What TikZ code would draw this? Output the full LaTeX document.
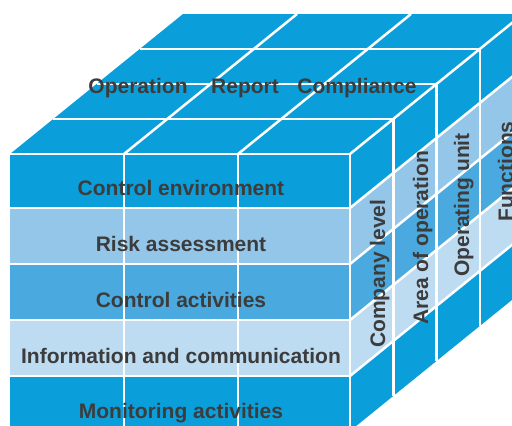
\documentclass[tikz,border=0pt]{standalone}
\usepackage{fontspec}
\setmainfont{Liberation Sans}
\definecolor{cdark}{HTML}{0A9FDB}
\definecolor{clight}{HTML}{94C6EA}
\definecolor{cmid}{HTML}{4AAADF}
\definecolor{cpale}{HTML}{BDDBF1}
\definecolor{ctext}{HTML}{3C3C3C}
\tikzset{
  lbl/.style={text=ctext, font=\fontsize{21}{25}\selectfont\bfseries, inner sep=0pt},
  gridline/.style={draw=white, line width=2.5pt, line cap=butt}
}
\begin{document}
\begin{tikzpicture}[x=1pt,y=-1pt]
\useasboundingbox (0,0) rectangle (512,426);
\clip (0,0) rectangle (512,426);
% rows of front and right faces
\foreach \a/\b/\c in {154/208/cdark, 208/264/clight, 264/320/cmid, 320/376/cpale, 376/431/cdark} {
  \fill[\c] (10,\a) rectangle (350,\b);
  \fill[\c] (350,\a) -- (523,{\a-140}) -- (523,{\b-140}) -- (350,\b) -- cycle;
}
% top face
\fill[cdark] (10,154) -- (350,154) -- (523,14) -- (183,14) -- cycle;
% front grid
\foreach \y in {208,264,320,376} \draw[gridline] (10,\y) -- (350,\y);
\foreach \x in {124,238,350} \draw[gridline] (\x,154) -- (\x,431);
% top grid
\draw[gridline] (10,154) -- (350,154);
\foreach \k in {1,2,3} \draw[gridline] ({10+43.25*\k},{154-35*\k}) -- ({350+43.25*\k},{154-35*\k});
\draw[gridline] (124,154) -- (297,14);
\draw[gridline] (238,154) -- (411,14);
\draw[gridline] (350,154) -- (523,14);
% right grid
\foreach \y in {208,264,320,376} \draw[gridline] (350,\y) -- (523,{\y-140});
\foreach \k in {1,2,3} \draw[gridline] ({350+43.25*\k},{154-35*\k}) -- ({350+43.25*\k},{431-35*\k});
% top labels
\node[lbl, anchor=base] (op) at (138,93) {Operation};
\node[lbl, anchor=base] (rep) at (245,93) {Report};
\node[lbl, anchor=base] (comp) at (357,93) {Compliance};
% front labels
\node[lbl, anchor=base] (ce) at (181,195) {Control environment};
\node[lbl, anchor=base] (ra) at (181,251) {Risk assessment};
\node[lbl, anchor=base] (ca) at (181,307) {Control activities};
\node[lbl, anchor=base] (ic) at (181,363) {Information and communication};
\node[lbl, anchor=base] (ma) at (181,418) {Monitoring activities};
% right labels
\node[lbl, rotate=90, anchor=base west] (cl) at (385,348) {Company level};
\node[lbl, rotate=90, anchor=base west] (ao) at (428,325) {Area of operation};
\node[lbl, rotate=90, anchor=base west] (ou) at (469,277) {Operating unit};
\node[lbl, rotate=90, anchor=base west] (fn) at (513,222) {Functions};
\end{tikzpicture}
\end{document}
